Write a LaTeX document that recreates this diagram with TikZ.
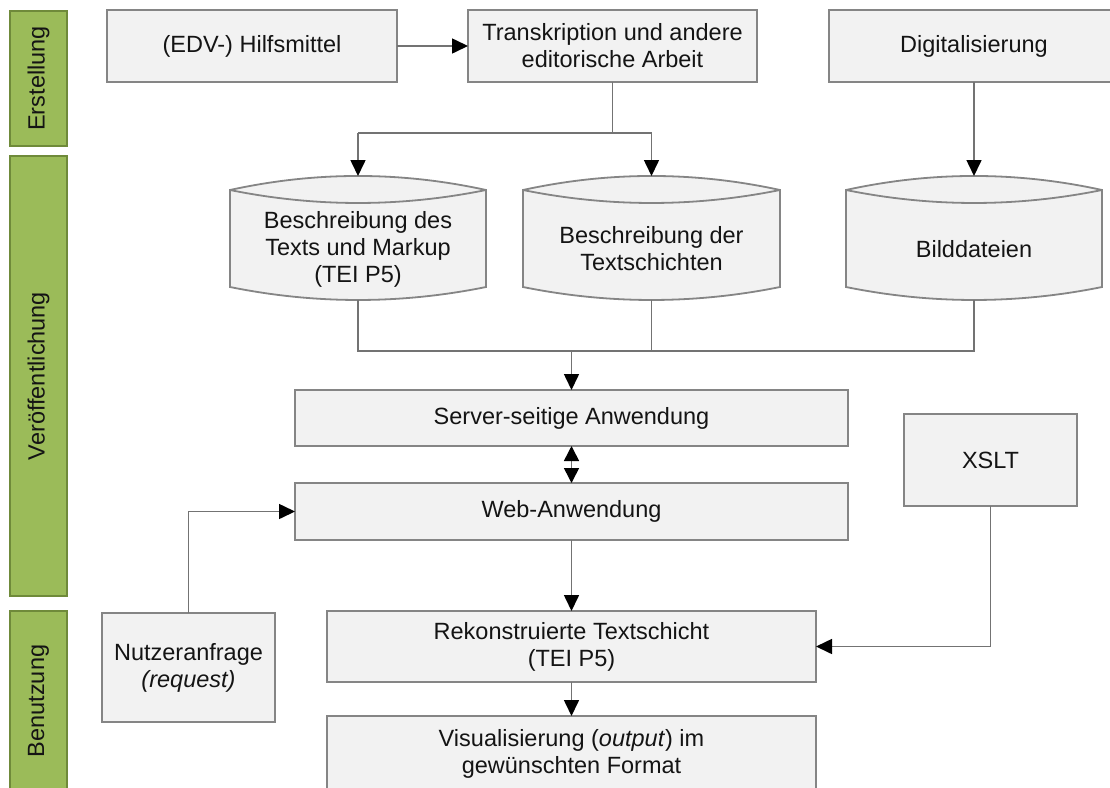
\documentclass[tikz,border=0pt]{standalone}
\usepackage{fontspec}
\setmainfont{Liberation Sans}
\usetikzlibrary{arrows.meta,calc}
\definecolor{boxfill}{HTML}{F2F2F2}
\definecolor{boxline}{HTML}{858585}
\definecolor{conline}{HTML}{737373}
\definecolor{barfill}{HTML}{9BBB59}
\definecolor{barline}{HTML}{6F8A3A}
\definecolor{txt}{HTML}{141414}
\tikzset{
  stepbox/.style={draw=boxline, fill=boxfill, line width=1.8pt, inner sep=0pt, outer sep=0pt, align=center, text=txt},
  phasebar/.style={draw=barline, fill=barfill, line width=1.8pt, inner sep=0pt, outer sep=0pt, minimum width=57pt, text=txt},
  cylshape/.style={draw=boxline, fill=boxfill, line width=1.8pt},
  cylanchor/.style={draw=none, inner sep=0pt, outer sep=0pt, minimum height=124pt},
  plainline/.style={draw=conline, line width=1.6pt},
  conarrow/.style={draw=conline, line width=1.6pt, -{Triangle[length=16pt,width=15pt,color=black]}},
  dblarrow/.style={draw=conline, line width=1.6pt, {Triangle[length=15pt,width=15pt,color=black]}-{Triangle[length=15pt,width=15pt,color=black]}},
}
\newcommand{\drawcyl}[4]{%
  \pgfmathsetmacro{\cxa}{#1}\pgfmathsetmacro{\cxb}{#2}%
  \pgfmathsetmacro{\cxm}{(#1+#2)/2}%
  \pgfmathsetmacro{\cxp}{#1+(#2-#1)/3}\pgfmathsetmacro{\cxq}{#2-(#2-#1)/3}%
  \pgfmathsetmacro{\cwd}{#2-#1}%
  \filldraw[cylshape] (\cxa,190) .. controls (\cxp,171.3) and (\cxq,171.3) .. (\cxb,190) -- (\cxb,287) .. controls (\cxq,304.3) and (\cxp,304.3) .. (\cxa,287) -- cycle;
  \draw[cylshape, fill=none] (\cxa,190) .. controls (\cxp,207.3) and (\cxq,207.3) .. (\cxb,190);
  \node[cylanchor, minimum width=\cwd pt] (#3) at (\cxm,238) {};
  \node[align=center, text=txt] (#3t) at (\cxm,249) {#4};
}
\begin{document}
\begin{tikzpicture}[x=1pt, y=-1pt, font=\fontsize{23.5}{27}\selectfont]
\fill[white] (0,0) rectangle (1110,787);
\useasboundingbox (0,0) rectangle (1110,787);

% phase bars
\node[phasebar, minimum height=135pt] (erst) at (38.5,78.5) {\rotatebox{90}{Erstellung}};
\node[phasebar, minimum height=440pt] (veroff) at (38.5,376) {\rotatebox{90}{Veröffentlichung}};
\node[phasebar, minimum height=180pt] (benutz) at (38.5,701) {\rotatebox{90}{Benutzung}};

% top row
\node[stepbox, minimum width=290pt, minimum height=72pt] (hilf) at (252,46) {(EDV-) Hilfsmittel};
\node[stepbox, minimum width=289pt, minimum height=72pt] (trans) at (612.5,46) {Transkription und andere\\editorische Arbeit};
\node[stepbox, minimum width=290pt, minimum height=72pt] (digi) at (974,46) {Digitalisierung};

% cylinders
\drawcyl{230}{486}{cA}{Beschreibung des\\Texts und Markup\\(TEI P5)}
\drawcyl{523}{780}{cB}{Beschreibung der\\Textschichten}
\drawcyl{846}{1102}{cC}{Bilddateien}

% middle / bottom boxes
\node[stepbox, minimum width=553pt, minimum height=56pt] (server) at (571.5,418) {Server-seitige Anwendung};
\node[stepbox, minimum width=553pt, minimum height=57pt] (web) at (571.5,511.5) {Web-Anwendung};
\node[stepbox, minimum width=173pt, minimum height=92pt] (xslt) at (990.5,460) {XSLT};
\node[stepbox, minimum width=489pt, minimum height=71pt] (rek) at (571.5,646.5) {Rekonstruierte Textschicht\\(TEI P5)};
\node[stepbox, minimum width=489pt, minimum height=76pt] (vis) at (571.5,754) {Visualisierung (\textit{output}) im\\gewünschten Format};
\node[stepbox, minimum width=173pt, minimum height=109pt] (nutz) at (188.5,667.5) {Nutzeranfrage\\\textit{(request)}};

% connectors
\draw[conarrow] (hilf.east) -- (trans.west);
\coordinate (br) at (612.5,133);
\draw[plainline] (trans.south) -- (br);
\draw[plainline] (cA.north |- br) -- (cB.north |- br);
\draw[conarrow] (cA.north |- br) -- (cA.north);
\draw[conarrow] (cB.north |- br) -- (cB.north);
\draw[conarrow] (digi.south) -- (cC.north);

\coordinate (mg) at (571.5,351);
\draw[plainline] (cA.south) |- (mg);
\draw[plainline] (cC.south) |- (mg);
\draw[plainline] (cB.south) -- (cB.south |- mg);
\draw[conarrow] (mg) -- (server.north);

\draw[dblarrow] (server.south) -- (web.north);
\draw[conarrow] (nutz.north) |- (web.west);
\draw[conarrow] (web.south) -- (rek.north);
\draw[conarrow] (xslt.south) |- (rek.east);
\draw[conarrow] (rek.south) -- (vis.north);
\end{tikzpicture}
\end{document}
